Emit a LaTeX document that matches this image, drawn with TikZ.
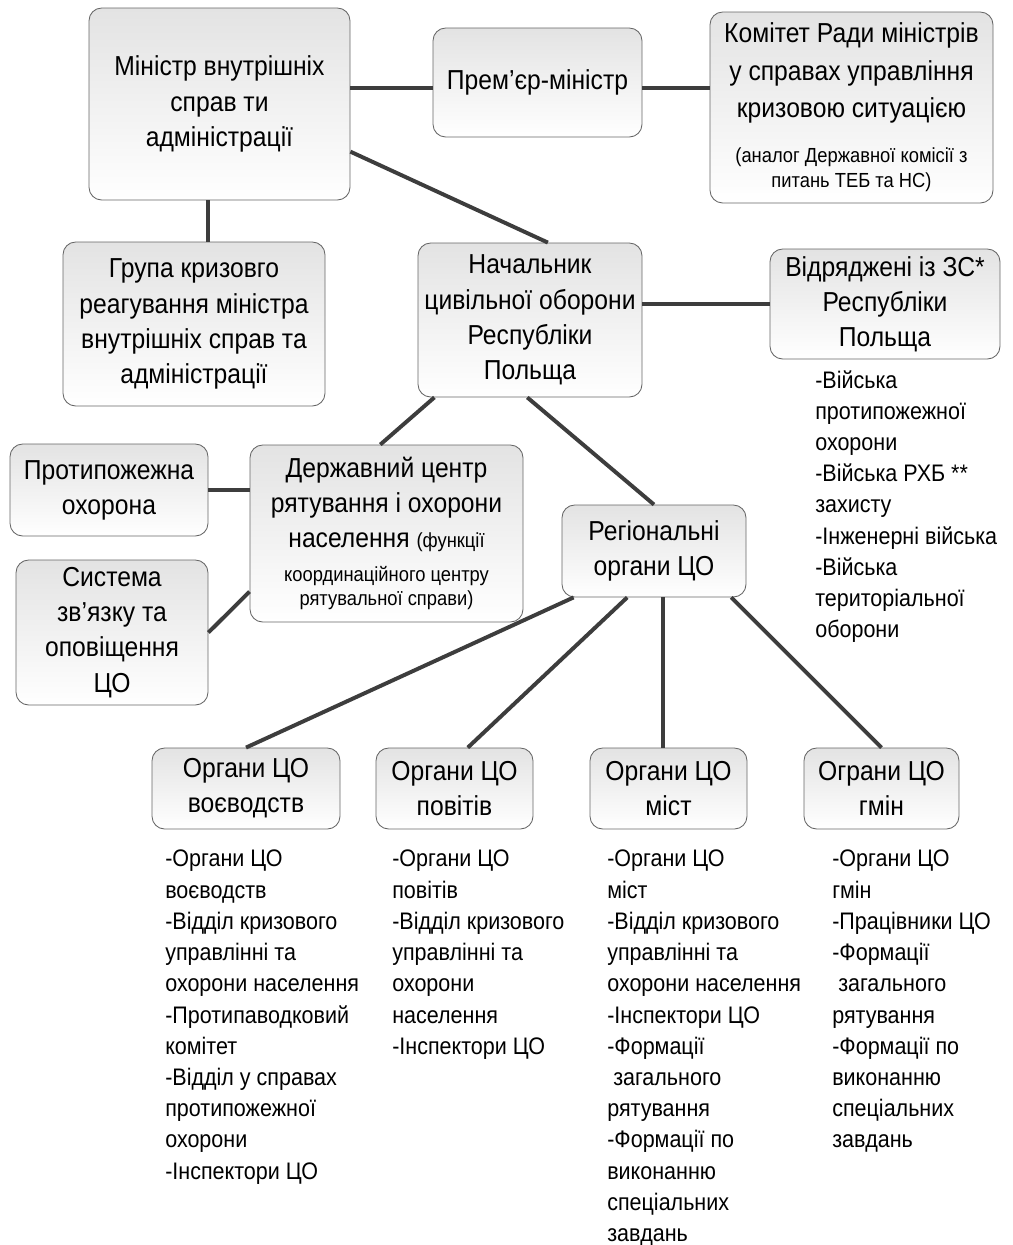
\documentclass[tikz,border=0pt]{standalone}
\usepackage{fontspec}
\setmainfont{Liberation Sans}[FakeStretch=0.9]
\usetikzlibrary{positioning}

\def\px{0.025cm}
\newcommand{\notesize}{\fontsize{14.5}{17}\selectfont}

\begin{document}
\begin{tikzpicture}[
  x=0.025cm, y=-0.025cm,
  org/.style={draw=black!60, line width=0.6pt, rounded corners=9pt,
              top color=black!11, bottom color=white, align=center,
              font=\fontsize{19.5}{25}\selectfont, inner sep=1pt},
  lst/.style={anchor=north west, align=left, inner sep=0pt,
              font=\fontsize{17}{22.2}\selectfont},
  link/.style={draw=black!76, line width=2.8pt},
]
\useasboundingbox (0,0) rectangle (1013,1245);

\def\rT{788.5}  % bottom row: CD bodies of the territorial units
\def\rL{850}    % lists under the bottom row

% ============ top =========================================================
\node[org, minimum width=261*\px, minimum height=192*\px] (min) at (219.5,104)
  {Міністр внутрішніх\\справ ти\\адміністрації};
\node[org, minimum width=209*\px, minimum height=109*\px] (prem) at (537.5,82.5)
  {Прем’єр-міністр};
\node[org, minimum width=283*\px, minimum height=191*\px] (kom) at (851.5,107.5)
  {Комітет Ради міністрів\\[1.5pt]у справах управління\\[1.5pt]кризовою ситуацією\\[7pt]
   \notesize (аналог Державної комісії з\\[-7pt]\notesize питань ТЕБ та НС)};

% ============ second row ==================================================
\node[org, minimum width=262*\px, minimum height=164*\px] (grp) at (194,324)
  {Група кризовго\\реагування міністра\\внутрішніх справ та\\адміністрації};
\node[org, minimum width=224*\px, minimum height=154*\px] (nach) at (530,320)
  {Начальник\\цивільної оборони\\Республіки\\Польща};
\node[org, minimum width=230*\px, minimum height=110*\px] (zs) at (885,304)
  {Відряджені із ЗС*\\Республіки\\Польща};
\node[lst] (zslist) at (815,370)
  {-Війська\\протипожежної\\охорони\\-Війська РХБ **\\захисту\\
   -Інженерні війська\\-Війська\\територіальної\\оборони};

% ============ third row ===================================================
\node[org, minimum width=198*\px, minimum height=92*\px] (ppo) at (109,490)
  {Протипожежна\\охорона};
\node[org, minimum width=192*\px, minimum height=145*\px] (sys) at (112,632.5)
  {Система\\зв’язку та\\оповіщення\\ЦО};
\node[org, minimum width=273*\px, minimum height=177*\px] (dc) at (386.5,533.5)
  {Державний центр\\рятування і охорони\\населення {\notesize(функції}\\[-1pt]
   \notesize координаційного центру\\[-8pt]\notesize рятувальної справи)};
\node[org, minimum width=184*\px, minimum height=92*\px] (reg) at (654,551)
  {Регіональні\\органи ЦО};

% ============ bottom row ==================================================
\node[org, minimum width=188*\px, minimum height=81*\px] (ov) at (246,\rT)
  {Органи ЦО\\воєводств};
\node[org, minimum width=157*\px, minimum height=81*\px] (op) at (454.5,\rT)
  {Органи ЦО\\повітів};
\node[org, minimum width=157*\px, minimum height=81*\px] (om) at (668.5,\rT)
  {Органи ЦО\\міст};
\node[org, minimum width=155*\px, minimum height=81*\px] (og) at (881.5,\rT)
  {Ограни ЦО\\гмін};

\node[lst] (ovlist) at (165,\rL)
  {-Органи ЦО\\воєводств\\-Відділ кризового\\управлінні та\\охорони населення\\
   -Протипаводковий\\комітет\\-Відділ у справах\\протипожежної\\охорони\\
   -Інспектори ЦО};
\node[lst] (oplist) at (392,\rL)
  {-Органи ЦО\\повітів\\-Відділ кризового\\управлінні та\\охорони\\населення\\
   -Інспектори ЦО};
\node[lst] (omlist) at (607,\rL)
  {-Органи ЦО\\міст\\-Відділ кризового\\управлінні та\\охорони населення\\
   -Інспектори ЦО\\-Формації\\\hspace{0.25em}загального\\рятування\\
   -Формації по\\виконанню\\спеціальних\\завдань};
\node[lst] (oglist) at (832,\rL)
  {-Органи ЦО\\гмін\\-Працівники ЦО\\-Формації\\\hspace{0.25em}загального\\
   рятування\\-Формації по\\виконанню\\спеціальних\\завдань};

% ============ links =======================================================
\draw[link] (prem.183 -| min.east) -- (prem.183);
\draw[link] (prem.-3) -- (prem.-3 -| kom.west);
\draw[link] (min.-20) -- (nach.77);
\draw[link] ([xshift=14*\px]grp.north |- min.south) -- ([xshift=14*\px]grp.north);
\draw[link] (zs.west -| nach.east) -- (zs.west);
\draw[link] (nach.219) -- (dc.94);
\draw[link] (nach.-92) -- (reg.north);
\draw[link] (ppo.east) -- (ppo.east -| dc.west);
\draw[link] (sys.east) -- (dc.203);

\draw[link] (reg.210) -- (ov.north);
\draw[link] (reg.-120) -- (op.72);
\draw[link] ([xshift=9*\px]reg.south) -- ([xshift=9*\px]reg.south |- om.north);
\draw[link] (reg.-31) -- (og.north);

\end{tikzpicture}
\end{document}
